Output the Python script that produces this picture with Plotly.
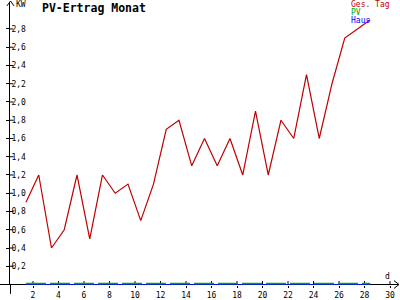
import plotly.graph_objects as go

# ---- data ----
days = list(range(1, 29))
ges_tag = [0.9, 1.2, 0.4, 0.6, 1.2, 0.5, 1.2, 1.0, 1.1, 0.7, 1.1, 1.7, 1.8, 1.3,
           1.6, 1.3, 1.6, 1.2, 1.9, 1.2, 1.8, 1.6, 2.3, 1.6, 2.2, 2.7, 2.8, 2.9]
pv = [0.0] * 28
haus = [0.0] * 28
x_ticks = list(range(2, 31, 2))
y_ticks = [round(0.2 * i, 1) for i in range(1, 15)]

title = "PV-Ertrag Monat"
legend_names = ["Ges. Tag", "PV", "Haus"]
colors = ["#c00000", "#00a800", "#0000ff"]

# day values are plotted mid-day
xpos = [d + 0.45 for d in days]

W, H = 400, 300
L, R, T, B = 10, 0, 2, 9
PW, PH = W - L - R, H - T - B
KPX = 93.2  # pixels per kW

def px(x):
    return (x - L) / PW

def py(y):
    return (H - B - y) / PH

MONO = "DejaVu Sans Mono"

fig = go.Figure()
fig.add_trace(go.Scatter(x=xpos, y=pv, mode="lines", name=legend_names[1],
                         yaxis="y2", line=dict(color=colors[1], width=1.6, dash="20px,4px")))
fig.add_trace(go.Scatter(x=xpos, y=haus, mode="lines", name=legend_names[2],
                         line=dict(color=colors[2], width=1)))
fig.add_trace(go.Scatter(x=xpos, y=ges_tag, mode="lines", name=legend_names[0],
                         line=dict(color=colors[0], width=1.2)))

fig.update_layout(
    width=W, height=H,
    margin=dict(l=L, r=R, t=T, b=B, pad=0),
    paper_bgcolor="white", plot_bgcolor="white",
    showlegend=False,
    separators=",.",
    font=dict(family=MONO, size=8, color="black"),
)
fig.update_xaxes(
    range=[(L - 7.5) / 12.75, (W - 7.5) / 12.75],
    tickvals=x_ticks, ticktext=[str(v) for v in x_ticks],
    ticks="outside", ticklen=2, tickcolor="black",
    showline=False, showgrid=False, zeroline=False,
    tickfont=dict(family=MONO, size=8, color="black"),
)
fig.update_yaxes(
    range=[-0.5 / KPX, (PH - 0.5) / KPX],
    tickvals=y_ticks, tickformat=".1f",
    ticks="outside", ticklen=3, tickcolor="black",
    ticklabelposition="inside",
    showline=True, linecolor="black", linewidth=1,
    showgrid=False, zeroline=False, layer="below traces",
    tickfont=dict(family=MONO, size=8, color="black"),
)
fig.update_layout(yaxis2=dict(overlaying="y", visible=False,
                              range=[-1.6 / KPX, (PH - 1.6) / KPX]))

shapes = []
# x axis line (under the traces)
shapes.append(dict(type="line", xref="paper", yref="paper", layer="below",
                   x0=px(0), x1=px(399), y0=py(290.5), y1=py(290.5),
                   line=dict(color="black", width=1)))
# y axis extension below the crossing
shapes.append(dict(type="line", xref="paper", yref="paper", layer="below",
                   x0=px(10.5), x1=px(10.5), y0=py(290), y1=py(300),
                   line=dict(color="black", width=1)))
# y arrow head (top)
shapes.append(dict(type="path", xref="paper", yref="paper",
                   path=f"M {px(7)} {py(6)} L {px(10.5)} {py(1)} L {px(14)} {py(6)}",
                   line=dict(color="black", width=1)))
# x arrow head (right)
shapes.append(dict(type="path", xref="paper", yref="paper",
                   path=f"M {px(394)} {py(286.5)} L {px(399)} {py(290.5)} L {px(394)} {py(294.5)}",
                   line=dict(color="black", width=1)))
# inner halves of the "+" tick marks
for v in y_ticks:
    shapes.append(dict(type="line", xref="paper", yref="y", layer="below",
                       x0=px(10), x1=px(13.5), y0=v, y1=v,
                       line=dict(color="black", width=1)))
for v in x_ticks:
    shapes.append(dict(type="line", xref="x", yref="paper", layer="below",
                       x0=v, x1=v, y0=py(291), y1=py(287),
                       line=dict(color="black", width=1)))
fig.update_layout(shapes=shapes)

ann = []
ann.append(dict(x=px(40), y=py(8), xref="paper", yref="paper", text=f"<b>{title}</b>",
                showarrow=False, xanchor="left", yanchor="middle",
                font=dict(family=MONO, size=11.5, color="black")))
ann.append(dict(x=px(14), y=py(5), xref="paper", yref="paper", text="KW",
                showarrow=False, xanchor="left", yanchor="middle",
                font=dict(family=MONO, size=8, color="black")))
ann.append(dict(x=px(387), y=py(282), xref="paper", yref="paper", text="d",
                showarrow=False, xanchor="center", yanchor="middle",
                font=dict(family=MONO, size=8, color="black")))
for i, (name, col) in enumerate(zip(legend_names, colors)):
    ann.append(dict(x=px(349), y=py(4.5 + 8 * i), xref="paper", yref="paper", text=name,
                    showarrow=False, xanchor="left", yanchor="middle",
                    font=dict(family=MONO, size=8, color=col)))
fig.update_layout(annotations=ann)

fig.write_html("out.html")
